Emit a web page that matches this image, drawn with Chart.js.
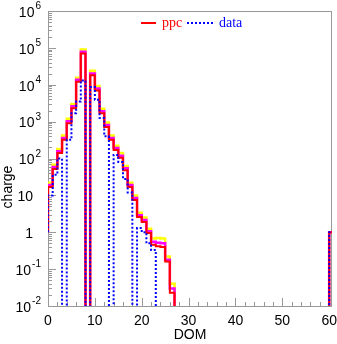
<!DOCTYPE html>
<html>
<head>
<meta charset="utf-8">
<script src="https://cdn.jsdelivr.net/npm/chart.js@4.4.0/dist/chart.umd.min.js"></script>
<style>
  html, body { margin: 0; padding: 0; background: #fff; }
  #wrap { width: 337px; height: 344px; position: relative; }
</style>
</head>
<body>
<div id="wrap"><canvas id="domChart"></canvas></div>
<script>
// charge per DOM bin (bins 0..60), 0 = empty bin
var ppc = [
    17, 52, 140, 320, 900, 2300, 12000, 70000, 0, 18000,
    7000, 1700, 720, 320, 170, 105, 48, 17, 7.5, 2.6,
    1.9, 0.95, 0.46, 0.42, 0.40, 0.16, 0.023, 0, 0, 0,
    0, 0, 0, 0, 0, 0, 0, 0, 0, 0,
    0, 0, 0, 0, 0, 0, 0, 0, 0, 0,
    0, 0, 0, 0, 0, 0, 0, 0, 0, 0,
    1
];
// upper edge of the inner (magenta) ppc band
var ppcBand1 = [
    19, 59, 158, 360, 1020, 2600, 13600, 79000, 0, 20300,
    7900, 1920, 810, 360, 192, 118, 54, 19, 8.5, 2.9,
    2.15, 1.07, 0.55, 0.52, 0.50, 0.18, 0.03, 0, 0, 0,
    0, 0, 0, 0, 0, 0, 0, 0, 0, 0,
    0, 0, 0, 0, 0, 0, 0, 0, 0, 0,
    0, 0, 0, 0, 0, 0, 0, 0, 0, 0,
    1
];
// upper edge of the outer (yellow) ppc band
var ppcBand2 = [
    22, 68, 180, 420, 1200, 3000, 15500, 90000, 0, 24000,
    9200, 2250, 950, 420, 220, 140, 63, 22, 10, 3.4,
    2.5, 1.25, 0.68, 0.70, 0.68, 0.22, 0.04, 0, 0, 0,
    0, 0, 0, 0, 0, 0, 0, 0, 0, 0,
    0, 0, 0, 0, 0, 0, 0, 0, 0, 0,
    0, 0, 0, 0, 0, 0, 0, 0, 0, 0,
    1
];
var data = [
    10, 36, 100, 0, 320, 1700, 3500, 13000, 0, 8700,
    3900, 1250, 400, 0, 125, 80, 28, 12, 0, 1.3,
    1.0, 0.5, 0.33, 0, 0, 0, 0, 0, 0, 0,
    0, 0, 0, 0, 0, 0, 0, 0, 0, 0,
    0, 0, 0, 0, 0, 0, 0, 0, 0, 0,
    0, 0, 0, 0, 0, 0, 0, 0, 0, 0,
    1
];
var xTickVals = [0, 10, 20, 30, 40, 50, 60];
var yExps = [6, 5, 4, 3, 2, 1, 0, -1, -2];

var SANS = '"Liberation Sans", Arial, sans-serif';
var SERIF = '"Liberation Serif", "Times New Roman", serif';
var leftEdge = 1;      // histogram outline starts here at x = 0
var floorVal = 1e-4;   // empty bins are drawn below the axis minimum

function steps(vals) {
    var pts = [{x: 0, y: leftEdge}];
    vals.forEach(function(v, i) {
        pts.push({x: i, y: v > 0 ? v : floorVal});
    });
    pts.push({x: vals.length, y: floorVal});
    return pts;
}

function stepSet(vals, color, width, dash, order) {
    return {
        data: steps(vals),
        borderColor: color,
        borderWidth: width,
        borderDash: dash,
        stepped: 'before',
        pointRadius: 0,
        fill: false,
        clip: 0,
        order: order
    };
}

// frame + inward tick marks
var framePlugin = {
    id: 'frame',
    beforeDatasetsDraw: function(chart) {
        var ctx = chart.ctx, a = chart.chartArea;
        var xs = chart.scales.x, ys = chart.scales.y;
        ctx.save();
        ctx.strokeStyle = '#999';
        ctx.lineWidth = 1;
        ctx.strokeRect(Math.round(a.left) + 0.5, Math.round(a.top) + 0.5,
            Math.round(a.right - a.left) - 1, Math.round(a.bottom - a.top));
        ctx.beginPath();
        for (var k = -2; k <= 5; k++) {
            for (var m = 1; m <= 9; m++) {
                var y = Math.round(ys.getPixelForValue(m * Math.pow(10, k))) + 0.5;
                var len = m === 1 ? 8 : 4;
                ctx.moveTo(a.left, y);
                ctx.lineTo(a.left + len, y);
            }
        }
        for (var v = 0; v <= 60; v += 2) {
            var x = Math.round(xs.getPixelForValue(v)) + 0.5;
            var l = v % 10 === 0 ? 8 : 4;
            ctx.moveTo(x, a.bottom);
            ctx.lineTo(x, a.bottom - l);
        }
        ctx.stroke();
        ctx.restore();
    },
    afterDraw: function(chart) {
        var ctx = chart.ctx, ys = chart.scales.y;
        ctx.save();
        ctx.fillStyle = '#000';
        // y tick labels 10^n
        yExps.forEach(function(e) {
            var y = ys.getPixelForValue(Math.pow(10, e));
            if (e === 0 || e === 1) {
                ctx.font = '14px ' + SANS;
                ctx.textAlign = 'right';
                ctx.textBaseline = 'middle';
                ctx.fillText(e === 0 ? '1' : '10', 33, y + 2);
                return;
            }
            var exp = String(e);
            ctx.font = '10px ' + SANS;
            var ew = ctx.measureText(exp).width;
            ctx.textAlign = 'left';
            ctx.textBaseline = 'alphabetic';
            ctx.fillText(exp, 41 - ew, y - 2);
            ctx.font = '14px ' + SANS;
            ctx.textAlign = 'right';
            ctx.textBaseline = 'middle';
            ctx.fillText('10', 40 - ew, y + 2);
        });
        // y title
        ctx.translate(8, 187);
        ctx.rotate(-Math.PI / 2);
        ctx.font = '14px ' + SANS;
        ctx.textAlign = 'center';
        ctx.textBaseline = 'middle';
        ctx.fillText('charge', 0, 0);
        ctx.restore();

        // legend
        ctx.save();
        ctx.lineWidth = 2;
        ctx.strokeStyle = '#ff0000';
        ctx.beginPath();
        ctx.moveTo(141, 23);
        ctx.lineTo(156, 23);
        ctx.stroke();
        ctx.strokeStyle = '#0000ff';
        ctx.setLineDash([2, 2]);
        ctx.beginPath();
        ctx.moveTo(187, 23);
        ctx.lineTo(213, 23);
        ctx.stroke();
        ctx.setLineDash([]);
        ctx.font = '14px ' + SERIF;
        ctx.textAlign = 'left';
        ctx.textBaseline = 'alphabetic';
        ctx.fillStyle = '#ff0000';
        ctx.fillText('ppc', 162, 27);
        ctx.fillStyle = '#0000ff';
        ctx.fillText('data', 219, 27);
        ctx.restore();
    }
};

var ctx = document.getElementById('domChart').getContext('2d');
var domChart = new Chart(ctx, {
    type: 'line',
    data: {
        datasets: [
            stepSet(data, '#0000ff', 2, [2, 2], 0),
            stepSet(ppc, '#ff0000', 2, [], 1),
            stepSet(ppcBand1, '#ff00ff', 2.5, [], 2),
            stepSet(ppcBand2, '#ffff00', 2.5, [], 3)
        ]
    },
    options: {
        responsive: true,
        maintainAspectRatio: false,
        animation: false,
        layout: {
            padding: {top: 11, right: 5, left: 0, bottom: 0}
        },
        plugins: {
            legend: {display: false},
            tooltip: {enabled: false}
        },
        scales: {
            x: {
                type: 'linear',
                min: 0,
                max: 60.6,
                afterBuildTicks: function(s) {
                    s.ticks = xTickVals.map(function(v) { return {value: v}; });
                },
                afterFit: function(s) {
                    s.height = 38;
                    s.paddingLeft = 0;
                    s.paddingRight = 0;
                },
                grid: {display: false, drawTicks: false},
                border: {display: false},
                ticks: {
                    color: '#000',
                    font: {family: SANS, size: 14},
                    padding: 7,
                    autoSkip: false,
                    maxRotation: 0
                },
                title: {
                    display: true,
                    text: 'DOM',
                    color: '#000',
                    font: {family: SANS, size: 14},
                    padding: {top: 0, bottom: 0}
                }
            },
            y: {
                type: 'logarithmic',
                min: 0.01,
                max: 1e6,
                afterFit: function(s) {
                    s.width = 48;
                    s.paddingTop = 0;
                    s.paddingBottom = 0;
                },
                grid: {display: false},
                border: {display: false},
                ticks: {display: false}
            }
        }
    },
    plugins: [framePlugin]
});
</script>
</body>
</html>
